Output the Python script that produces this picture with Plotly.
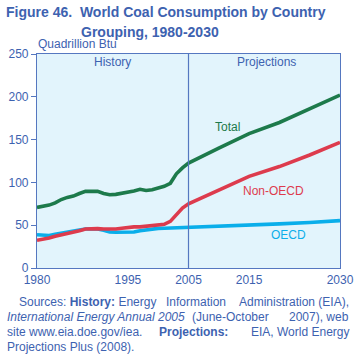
import plotly.graph_objects as go

years_hist = list(range(1980, 2006))
total_hist = [70.8, 72, 73.5, 76, 80, 82.5, 84, 87, 89.5, 89.5, 89.5, 87, 85.5, 86, 87, 88,
              90, 92, 90.5, 91.5, 93.5, 95.5, 99, 110, 117, 122.5]
nonoecd_hist = [32.3, 33.5, 35, 37, 38.5, 39.7, 41.5, 43.5, 45.5, 46, 46, 45.5, 45, 45.5, 46.5, 47.5,
                48, 48, 48.6, 49, 49.4, 51, 54.5, 62, 70, 75]
oecd_hist = [38.9, 38.5, 38, 39.5, 41, 42.5, 43.6, 44.5, 45.5, 45.5, 45.5, 44, 42, 41.8, 41.6, 41.8,
             42, 43.5, 44.7, 45.5, 46.3, 46.5, 46.7, 47.2, 47.6, 47.9]

years_proj = [2005, 2010, 2015, 2020, 2025, 2030]
total_proj = [122.5, 140, 157, 170, 186, 202]
nonoecd_proj = [75, 91.4, 107, 118.5, 132, 146.7]
oecd_proj = [47.9, 49, 50.2, 51.5, 53.2, 55.3]

xticks = [1980, 1995, 2005, 2015, 2030]
yticks = [0, 50, 100, 150, 200, 250]

TXT = "#3D62B0"
FONT = "Liberation Sans, Arial, sans-serif"

series = [
    ("Total", total_hist, total_proj, "#1D7A4B"),
    ("Non-OECD", nonoecd_hist, nonoecd_proj, "#DD3B4D"),
    ("OECD", oecd_hist, oecd_proj, "#0AAEEA"),
]

fig = go.Figure()
for name, h, p, c in reversed(series):
    fig.add_trace(go.Scatter(x=years_hist + years_proj[1:], y=h + p[1:], mode="lines",
                             line=dict(color=c, width=3.6), name=name, showlegend=False,
                             hoverinfo="skip"))

fig.add_shape(type="line", xref="x", yref="paper", x0=2005, x1=2005, y0=0, y1=1,
              line=dict(color="#5577C0", width=1.2), layer="above")

annots = [
    dict(x=1992.5, y=241, text="History", color=TXT),
    dict(x=2017.8, y=241, text="Projections", color=TXT),
    dict(x=2011.5, y=165, text="Total", color="#1D7A4B"),
    dict(x=2019, y=90, text="Non-OECD", color="#DD3B4D"),
    dict(x=2021.5, y=38, text="OECD", color="#0AAEEA"),
]
for a in annots:
    fig.add_annotation(x=a["x"], y=a["y"], xref="x", yref="y", text=a["text"], showarrow=False,
                       xanchor="center", yanchor="middle",
                       font=dict(family=FONT, size=12, color=a["color"]))

W, H = 355, 358
L, T = 37, 54
pw, ph = 303, 214
R = W - L - pw
B = H - T - ph

def px(x):
    return (x - L) / pw

def py(y):
    return (T + ph - y) / ph

def pa(x, y, text, size=12, anchor="left"):
    fig.add_annotation(x=px(x), y=py(y), xref="paper", yref="paper", text=text, showarrow=False,
                       xanchor=anchor, yanchor="middle", align="left",
                       font=dict(family=FONT, size=size, color=TXT))

pa(4, 12, "<b>Figure 46.  World Coal Consumption by Country</b>", size=14)
pa(79, 32, "<b>Grouping, 1980-2030</b>", size=14)
pa(36, 44, "Quadrillion Btu", size=12)

# justified source note: each line split into left / middle / right pieces
src_lines = [
    (302, (17, "Sources: <b>History:</b> Energy"), (196, "Information"),
     (351, "Administration (EIA),")),
    (317, (5, "<i>International Energy Annual 2005</i>"), (230, "(June-October"),
     (351, "2007), web")),
    (332, (5, "site www.eia.doe.gov/iea."), (193, "<b>Projections:</b>"),
     (351, "EIA, World Energy")),
]
for y, left, mid, right in src_lines:
    pa(left[0], y, left[1], size=12, anchor="left")
    pa(mid[0], y, mid[1], size=12, anchor="center")
    pa(right[0], y, right[1], size=12, anchor="right")
pa(5, 347, "Projections Plus (2008).", size=12)

fig.update_layout(
    width=W, height=H,
    margin=dict(l=L, r=R, t=T, b=B, autoexpand=False),
    paper_bgcolor="white",
    plot_bgcolor="#E2F4FC",
    font=dict(family=FONT, color=TXT, size=12),
    xaxis=dict(range=[1980, 2030], tickvals=xticks, ticktext=[str(v) for v in xticks],
               showgrid=False, zeroline=False, showline=True, linecolor="#5577C0", linewidth=1.2,
               mirror=True, ticks="", automargin=False,
               tickfont=dict(size=12, color=TXT, family=FONT)),
    yaxis=dict(range=[0, 250], tickvals=yticks, showgrid=False, zeroline=False, showline=True,
               linecolor="#5577C0", linewidth=1.2, mirror=True, ticks="outside", ticklen=5,
               tickcolor="#5577C0", automargin=False,
               tickfont=dict(size=12, color=TXT, family=FONT)),
)

fig.write_html("out.html", config={"displayModeBar": False},
               post_script="document.body.style.margin='0';"
                           "document.documentElement.style.overflow='hidden';")
